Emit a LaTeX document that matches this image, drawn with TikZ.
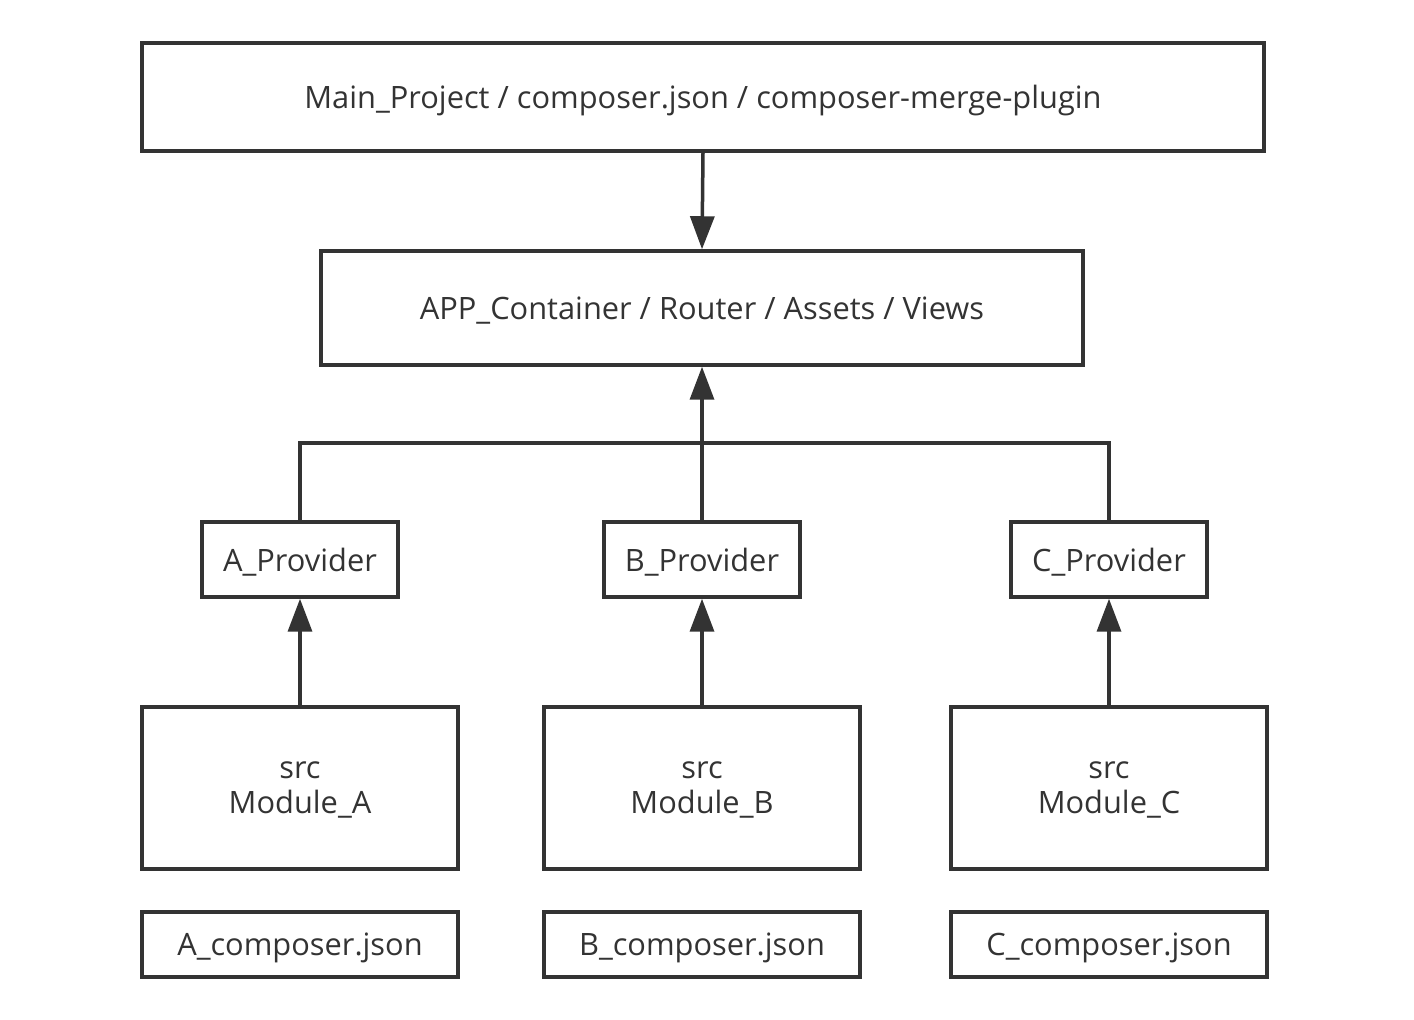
\documentclass[tikz,border=0pt]{standalone}
\usepackage{fontspec}
\setmainfont{Open Sans}
\usetikzlibrary{arrows.meta,positioning}
\definecolor{linegray}{HTML}{333333}

\begin{document}
\begin{tikzpicture}[x=0.5pt,y=-0.5pt,
    box/.style={draw=linegray, line width=1.75pt, text=linegray,
      font=\fontsize{15.4}{17.5}\selectfont, align=center, inner sep=0pt, text depth=0pt},
    link/.style={draw=linegray, line width=1.75pt},
    uparrow/.style={link, -{Triangle[length=16.5pt,width=12pt]}}]
      \useasboundingbox (0,0) rectangle (1414,1020);

      % top
      \node[box, minimum width=561pt, minimum height=54pt] (main) at (703,97)
        {Main\_Project / composer.json / composer-merge-plugin};
      \node[box, minimum width=381pt, minimum height=57pt] (app) at (702,308)
        {APP\_Container / Router / Assets / Views};
      \draw[uparrow] (main.south) -- (app.north);

      % modules
      \foreach \n/\x in {A/300,B/702,C/1109}{
        \node[box, minimum width=98pt, minimum height=37.5pt] (p\n) at (\x,559.5) {\n\_Provider};
        \node[box, minimum width=158pt, minimum height=81pt] (m\n) at (\x,788) {src\\Module\_\n};
        \node[box, minimum width=158pt, minimum height=32.5pt] (c\n) at (\x,944.5) {\n\_composer.json};
        \draw[uparrow] (m\n.north) -- (p\n.south);
      }

      % providers to app
      \coordinate (join) at (702,443);
      \draw[link] (pA.north) -- (pA.north |- join) -- (pC.north |- join) -- (pC.north);
      \draw[uparrow] (pB.north) -- (app.south);
\end{tikzpicture}
\end{document}
